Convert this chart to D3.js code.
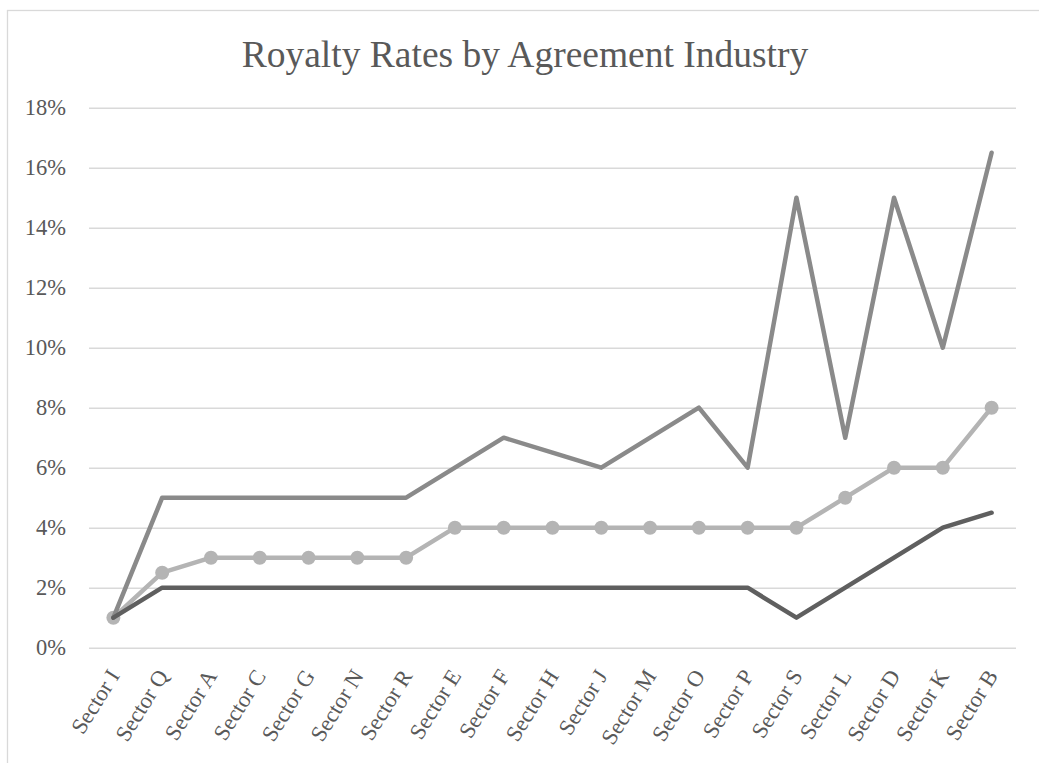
<!DOCTYPE html>
<html>
<head>
<meta charset="utf-8">
<script src="https://cdn.jsdelivr.net/npm/d3@7/dist/d3.min.js"></script>
<style>
  html, body { margin: 0; padding: 0; background: #ffffff; }
  svg { display: block; }
</style>
</head>
<body>
<svg id="chart" width="1039" height="763"></svg>
<script>
// Industry sectors along the x axis
const categories = ["Sector I", "Sector Q", "Sector A", "Sector C", "Sector G", "Sector N", "Sector R",
  "Sector E", "Sector F", "Sector H", "Sector J", "Sector M", "Sector O", "Sector P", "Sector S",
  "Sector L", "Sector D", "Sector K", "Sector B"];

// Royalty rates (%) per sector
const lowRates    = [1, 2, 2, 2, 2, 2, 2, 2, 2, 2, 2, 2, 2, 2, 1, 2, 3, 4, 4.5];
const highRates   = [1, 5, 5, 5, 5, 5, 5, 6, 7, 6.5, 6, 7, 8, 6, 15, 7, 15, 10, 16.5];
const medianRates = [1, 2.5, 3, 3, 3, 3, 3, 4, 4, 4, 4, 4, 4, 4, 4, 5, 6, 6, 8];

// Y axis ticks (%)
const yTicks = [0, 2, 4, 6, 8, 10, 12, 14, 16, 18];

const svg = d3.select("#chart");
const font = "'Liberation Serif', 'Times New Roman', serif";

// Outer chart frame
svg.append("rect")
  .attr("x", 7.5).attr("y", 10.5)
  .attr("width", 1100).attr("height", 800)
  .attr("fill", "none").attr("stroke", "#d9d9d9").attr("stroke-width", 1.3);

const plot = { left: 89, right: 1016, top: 107.7, bottom: 647.7 };

const x = d3.scaleBand().domain(categories).range([plot.left, plot.right]);
const y = d3.scaleLinear().domain([0, 18]).range([plot.bottom, plot.top]);
const cx = d => x(d) + x.bandwidth() / 2;

// Title
svg.append("text")
  .attr("x", 525).attr("y", 67)
  .attr("text-anchor", "middle")
  .attr("font-family", font).attr("font-size", 37.5)
  .attr("fill", "#595959")
  .text("Royalty Rates by Agreement Industry");

// Gridlines and y tick labels
const yAxis = d3.axisLeft(y)
  .tickValues(yTicks)
  .tickSize(-(plot.right - plot.left))
  .tickPadding(23)
  .tickFormat(d => d + "%");

const gy = svg.append("g")
  .attr("transform", `translate(${plot.left},0)`)
  .call(yAxis);
gy.select(".domain").remove();
gy.selectAll(".tick line").attr("stroke", "#d9d9d9").attr("stroke-width", 1.5);
gy.selectAll(".tick text")
  .attr("font-family", font).attr("font-size", 22.5)
  .attr("fill", "#595959");

// X axis labels, rotated
const xAxis = d3.axisBottom(x).tickSize(0).tickPadding(0);
const gx = svg.append("g")
  .attr("transform", `translate(0,${plot.bottom})`)
  .call(xAxis);
gx.select(".domain").remove();
gx.selectAll(".tick text")
  .attr("font-family", font).attr("font-size", 22.5)
  .attr("fill", "#595959")
  .attr("text-anchor", "end")
  .attr("y", 0)
  .attr("dy", 0)
  .attr("transform", "translate(7,28) rotate(-58)");

const line = d3.line()
  .x((d, i) => cx(categories[i]))
  .y(d => y(d));

// Median series with markers
svg.append("path")
  .datum(medianRates)
  .attr("d", line)
  .attr("fill", "none")
  .attr("stroke", "#b4b4b4").attr("stroke-width", 4.5)
  .attr("stroke-linejoin", "round").attr("stroke-linecap", "round");

svg.append("g").selectAll("circle")
  .data(medianRates)
  .join("circle")
  .attr("cx", (d, i) => cx(categories[i]))
  .attr("cy", d => y(d))
  .attr("r", 7)
  .attr("fill", "#b4b4b4");

// High series
svg.append("path")
  .datum(highRates)
  .attr("d", line)
  .attr("fill", "none")
  .attr("stroke", "#8a8a8a").attr("stroke-width", 4.5)
  .attr("stroke-linejoin", "round").attr("stroke-linecap", "round");

// Low series
svg.append("path")
  .datum(lowRates)
  .attr("d", line)
  .attr("fill", "none")
  .attr("stroke", "#5f5f5f").attr("stroke-width", 4.5)
  .attr("stroke-linejoin", "round").attr("stroke-linecap", "round");
</script>
</body>
</html>
